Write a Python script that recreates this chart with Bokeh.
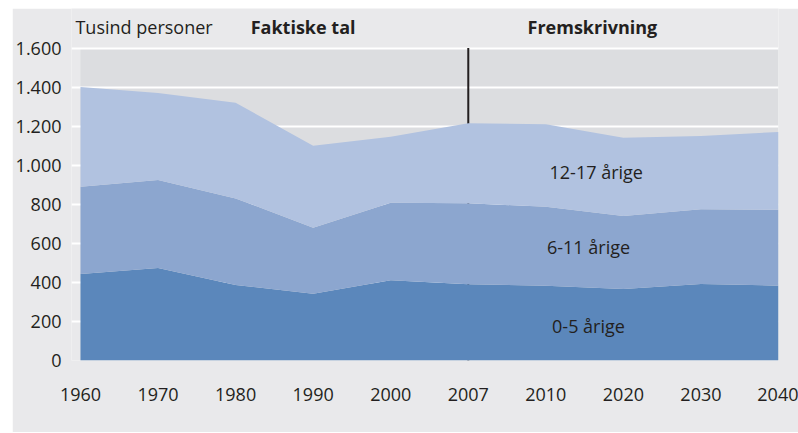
from bokeh.plotting import figure
from bokeh.models import ColumnDataSource, Range1d, FixedTicker, Label, Spacer, BoxAnnotation
from bokeh.layouts import row, column
from bokeh.embed import file_html
from bokeh.resources import INLINE

years = ["1960", "1970", "1980", "1990", "2000", "2007", "2010", "2020", "2030", "2040"]
age_0_5 = [443, 474, 387, 342, 411, 391, 383, 366, 392, 383]
age_6_11 = [447, 450, 443, 338, 397, 414, 404, 374, 382, 389]
age_12_17 = [510, 446, 490, 420, 337, 410, 423, 400, 376, 398]
y_ticks = [0, 200, 400, 600, 800, 1000, 1200, 1400, 1600]
y_tick_labels = ["0", "200", "400", "600", "800", "1.000", "1.200", "1.400", "1.600"]
split_year = "2007"
y_max = 1600

FONT = "Open Sans"
FS = "18px"
TXT = "#231f20"
idx = list(range(len(years)))
src = ColumnDataSource(dict(x=idx, a=age_0_5, b=age_6_11, c=age_12_17))

# frame extends above the panel so the header texts can sit inside it
p = figure(width=786, height=424, output_backend="svg", toolbar_location=None,
           x_range=Range1d(-0.116, len(years) - 1), y_range=Range1d(0, y_max * 352 / 312.5),
           min_border_left=56, min_border_right=20, min_border_top=0, min_border_bottom=72)
p.background_fill_color = "#e9e9eb"
p.border_fill_color = "#e9e9eb"
p.outline_line_color = None

panel = BoxAnnotation(left=0, right=len(years) - 1, bottom=0, top=y_max,
                      fill_color="#dcdde0", fill_alpha=1, line_color=None, level="image")
p.add_layout(panel)

# divider line behind areas
si = years.index(split_year)
p.segment(x0=[si], y0=[0], x1=[si], y1=[y_max], line_color=TXT, line_width=2)

p.varea_stack(stackers=["a", "b", "c"], x="x", source=src,
              color=["#5b87bb", "#8ca6cf", "#b1c2e0"])

p.xgrid.grid_line_color = None
p.ygrid.grid_line_color = "white"
p.ygrid.grid_line_width = 2
p.ygrid.ticker = FixedTicker(ticks=y_ticks)
p.ygrid.level = "underlay"

for ax in (p.xaxis, p.yaxis):
    ax.axis_line_color = None
    ax.major_tick_line_color = None
    ax.minor_tick_line_color = None
    ax.major_tick_out = 0
    ax.major_tick_in = 0
    ax.minor_tick_out = 0
    ax.minor_tick_in = 0
    ax.major_label_text_font = FONT
    ax.major_label_text_font_size = FS
    ax.major_label_text_color = TXT

p.yaxis.ticker = FixedTicker(ticks=y_ticks)
p.yaxis.major_label_overrides = {t: l for t, l in zip(y_ticks, y_tick_labels)}
p.yaxis.major_label_standoff = 10

p.xaxis.ticker = FixedTicker(ticks=idx)
p.xaxis.major_label_overrides = {i: y for i, y in zip(idx, years)}
p.xaxis.major_label_standoff = 27

def lab(x, y, t, bold=False, align="center"):
    p.add_layout(Label(x=x, y=y, text=t, text_font=FONT, text_font_size=FS,
                       text_color=TXT, text_align=align, text_baseline="middle",
                       text_font_style="bold" if bold else "normal"))

lab(-0.065, 1707, "Tusind personer", align="left")
lab(2.87, 1707, "Faktiske tal", bold=True)
lab(6.6, 1707, "Fremskrivning", bold=True)
lab(6.65, 967, "12-17 årige")
lab(6.55, 583, "6-11 årige")
lab(6.55, 178, "0-5 årige")

layout = column(Spacer(width=10, height=8), row(Spacer(width=12, height=424), p))
open("out.html", "w").write(file_html(layout, INLINE))
